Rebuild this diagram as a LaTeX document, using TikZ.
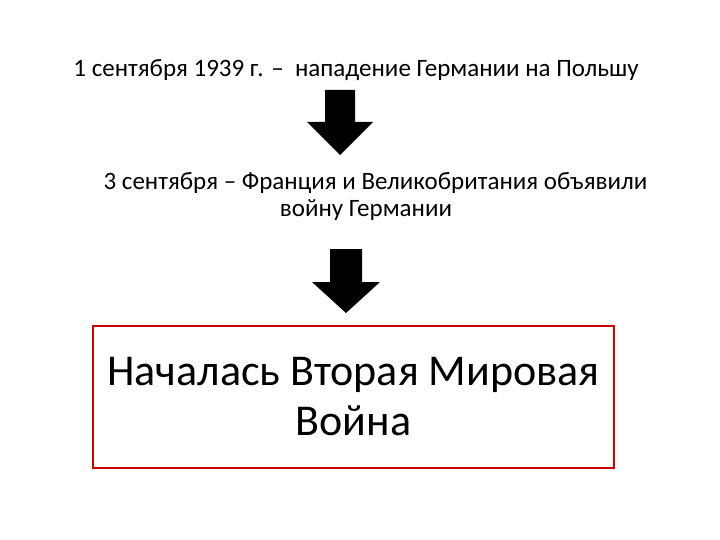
\documentclass[tikz,border=0pt]{standalone}
\usepackage{fontspec}
\setmainfont{Carlito}
\usepackage{tikz}

\begin{document}
\begin{tikzpicture}[x=1pt,y=-1pt,
	caption/.style={inner sep=0pt, font=\fontsize{25}{27}\selectfont, align=center},
	result/.style={draw=red!80!black, line width=2pt, minimum width=521pt, minimum height=142pt, inner sep=0pt, font=\fontsize{44}{50}\selectfont, align=center},
	blockarrow/.style={fill=black}]
\useasboundingbox (0,0) rectangle (720,540);
\node[caption] (start) at (356,70) {1 сентября 1939 г. --\ \ нападение Германии на Польшу};
\node[caption] (war) at (375.5,197) {3 сентября -- Франция и Великобритания объявили\\войну Германии\hspace*{19pt}};
\node[result] (wwii) at (353.5,397) {Началась Вторая Мировая\\Война};
% block arrows between the texts
\coordinate (arrA) at (340,90);
\coordinate (arrB) at (346,249);
\fill[blockarrow] (arrA) ++(-15,0) -- ++(30,0) -- ++(0,32) -- ++(18,0) -- (340,155) -- (307,122) -- (325,122) -- cycle;
\fill[blockarrow] (arrB) ++(-16,0) -- ++(32,0) -- ++(0,33) -- ++(18,0) -- (346,313) -- (312,282) -- (330,282) -- cycle;
\end{tikzpicture}
\end{document}
